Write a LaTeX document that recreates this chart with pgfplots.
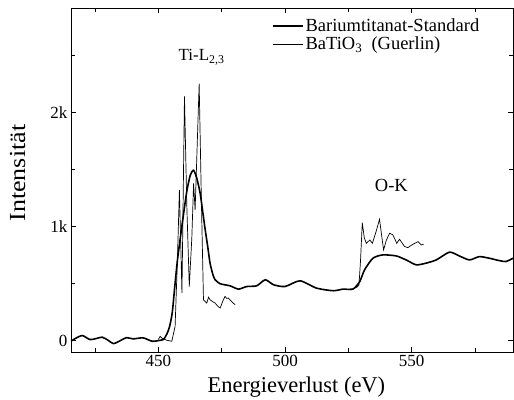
\documentclass[border=0pt]{standalone}
\usepackage{fontspec}
\setmainfont{Liberation Serif}
\usepackage{pgfplots}
\pgfplotsset{compat=1.18}
\begin{document}
\begin{tikzpicture}
\begin{axis}[
  scale only axis,
  width=442pt, height=344pt,
  xmin=415.5, xmax=590, ymin=-100, ymax=2915,
  xtick={450,500,550}, minor xtick={425,475,525,575},
  ytick={0,1000,2000}, yticklabels={0,1k,2k}, minor ytick={500,1500,2500},
  scaled y ticks=false,
  tick align=inside,
  major tick length=5pt, minor tick length=4pt,
  axis line style={line width=0.8pt},
  every tick/.style={black, line width=0.7pt},
  /pgf/number format/assume math mode=true,
  tick label style={font=\fontsize{17}{20}\selectfont},
  every axis x label/.style={at={(axis description cs:0.51,-0.118)},anchor=base,font=\fontsize{22.5}{26}\selectfont},
  every axis y label/.style={at={(axis description cs:-0.121,0.52)},rotate=90,anchor=center,font=\fontsize{23}{26}\selectfont},
  xlabel={Energieverlust (eV)},
  ylabel={\scalebox{1.13}[1]{Intensität}},
  unbounded coords=jump,
  legend style={draw=none, fill=none, at={(axis description cs:0.452,0.978)}, anchor=north west,
    font=\fontsize{18.5}{21}\selectfont, inner sep=1pt},
  legend cell align=left,
  legend image code/.code={\draw[#1] (0pt,0pt) -- (30pt,0pt);},
]
\addplot[black, line width=1.6pt, smooth, tension=0.4] coordinates {
(415.5,-5) (417.5,22) (420,44) (423,9) (425.5,18) (427.8,30) (430,5) (432.3,-26)
(435,0) (437.4,26) (440,15) (444,24) (447.5,-6) (450,0) (452,10) (453.4,60)
(454.5,130) (455.5,250) (456.5,480) (457.5,700) (458.6,890) (460,1120) (461.3,1319)
(462.6,1450) (463.9,1493) (465.2,1420) (466.5,1290) (467.5,1130) (468.5,969)
(469.5,820) (470.4,678) (471.5,580) (472.4,533) (474.4,498) (478.3,480) (481.6,451)
(484.9,474) (488.8,480) (492.2,533) (495.5,489) (500,474) (505.9,524) (512.4,460)
(519,437) (522.9,451) (526.8,451) (529.5,518) (531.4,620) (534.7,722) (538.6,751)
(543.9,742) (547.8,707) (551.8,664) (555.7,679) (559.7,707) (564.9,775) (568.8,742)
(572.8,707) (576.7,736) (580.6,722) (584.6,701) (587.2,693) (590,722)
};
\addlegendentry{Bariumtitanat-Standard}
\addplot[black, line width=0.7pt] coordinates {
(450,10) (450.7,38) (451.5,20) (453.3,3) (455.3,-6) (456.6,125) (457.5,700)
(458.3,1319) (459.3,416) (460.3,2140) (461.2,1200) (462.2,474) (463.2,900)
(463.9,1377) (464.5,1144) (466.1,2251) (467,1200) (467.8,358) (469.1,329)
(469.8,380) (470.4,358) (471.5,340) (472.4,329) (473.5,300) (474.4,286)
(475.5,350) (476.3,387) (477,370) (477.6,373) (479,340) (480.3,314)
(500,nan)
(525.5,451) (527,455) (528.5,470) (529.2,489) (529.8,700) (530.5,1033)
(531.3,900) (532.1,853) (533.5,882) (534.5,853) (536,960) (537.3,1063)
(538.9,795) (540,880) (541.3,941) (542.6,926) (544.1,853) (545.2,888)
(547.2,824) (548.5,815) (550.5,844) (552.5,867) (553.8,838) (554.7,844)
};
\addlegendentry{BaTiO\textsubscript{3}~~(Guerlin)}
\node[anchor=base west, font=\fontsize{17}{20}\selectfont] at (axis cs:456.6,2454) {Ti-L\textsubscript{2,3}};
\node[anchor=base west, font=\fontsize{18.5}{21}\selectfont] at (axis cs:534.1,1304) {O-K};
\coordinate (sw) at (rel axis cs:0,0);
\coordinate (ne) at (rel axis cs:1,1);
\end{axis}
\pgfresetboundingbox
\path ([xshift=-71pt,yshift=-47pt]sw) rectangle ([xshift=1pt,yshift=8pt]ne);
\end{tikzpicture}
\end{document}
